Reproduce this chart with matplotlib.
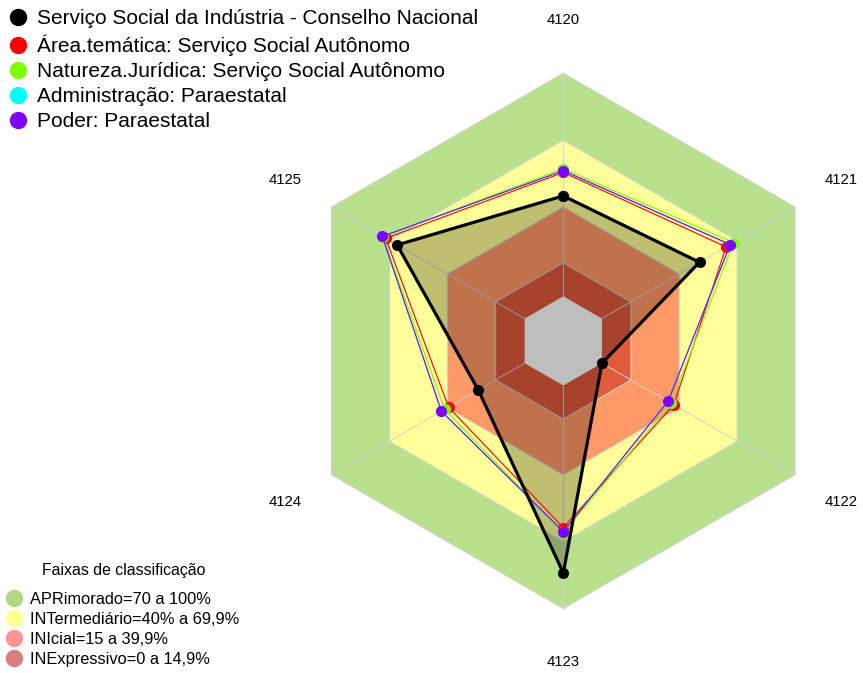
import numpy as np
import matplotlib.pyplot as plt
from matplotlib.lines import Line2D

plt.rcParams['font.family'] = ['Liberation Sans', 'DejaVu Sans']

# axes of the radar (clockwise from the top)
eixos = ['4120', '4121', '4122', '4123', '4124', '4125']

# series values (0-100)
sesi = [45.0, 50.5, 0.0, 84.0, 24.0, 66.0]
area_tematica = [55.5, 64.3, 37.2, 63.7, 39.4, 71.9]
natureza_juridica = [57.2, 68.2, 35.8, 66.0, 41.4, 73.5]
administracao = [56.3, 66.4, 34.2, 65.5, 43.1, 73.7]
poder = [56.3, 66.4, 34.2, 65.5, 43.1, 73.7]

series_nomes = ['Serviço Social da Indústria - Conselho Nacional',
                'Área.temática: Serviço Social Autônomo',
                'Natureza.Jurídica: Serviço Social Autônomo',
                'Administração: Paraestatal',
                'Poder: Paraestatal']
series_cores = ['black', '#FF0000', '#7FFF00', '#00FFFF', '#8000FF']

# classification bands
faixas_lim = [100, 70, 40, 15]
faixas_cores = ['#B9E08D', '#FFFF99', '#FF9966', '#E05A3C']
faixas_nomes = ['APRimorado=70 a 100%', 'INTermediário=40% a 69,9%',
                'INIcial=15 a 39,9%', 'INExpressivo=0 a 14,9%']
faixas_leg_cores = ['#ADD681', '#FFFF8C', '#FF9191', '#D67878']

OFF = 1 / 6  # centre hole
ang = np.deg2rad(90 - 60 * np.arange(len(eixos)))


def raio(v):
    return OFF + (1 - OFF) * np.asarray(v, dtype=float) / 100


def xy(v):
    r = raio(v) * np.ones(len(ang))
    x, y = r * np.cos(ang), r * np.sin(ang)
    return np.append(x, x[0]), np.append(y, y[0])


fig = plt.figure(figsize=(8.63, 6.73), dpi=100)
ax = fig.add_axes([0, 0, 1, 1])
R = 267.7
cx, cy = 563.3, 673 - 340.9
ax.set_xlim(-cx / R, (863 - cx) / R)
ax.set_ylim(-cy / R, (673 - cy) / R)
ax.axis('off')

# bands
for lim, cor in zip(faixas_lim, faixas_cores):
    x, y = xy(lim)
    ax.fill(x, y, color=cor, lw=0, zorder=1)
    ax.plot(x, y, color='#D0D0D0', lw=0.7, zorder=2)

# spokes
for a in ang:
    ax.plot([OFF * np.cos(a), np.cos(a)], [OFF * np.sin(a), np.sin(a)],
            color='#D0D0D0', lw=0.7, zorder=2)

# series
todas = [sesi, area_tematica, natureza_juridica, administracao, poder]
x, y = xy(sesi)
ax.fill(x, y, color='black', alpha=0.25, lw=0, zorder=3)

# centre
x0, y0 = xy(0)
ax.fill(x0, y0, color='#BEBEBE', lw=0, zorder=4)

for i, (vals, cor) in enumerate(zip(todas, series_cores)):
    x, y = xy(vals)
    if i == 0:
        ax.plot(x, y, color=cor, lw=2.3, marker='o', ms=7, zorder=10)
    else:
        ax.plot(x, y, color=cor, lw=0.8, marker='o', ms=7, zorder=5 + i)

# axis labels
for a, lab in zip(ang, eixos):
    ax.text(1.2 * np.cos(a), 1.2 * np.sin(a), lab, ha='center', va='center',
            fontsize=10.7)

# legends
h1 = [Line2D([], [], ls='', marker='o', ms=11.5, color=c) for c in series_cores]
leg1 = ax.legend(h1, series_nomes, loc='upper left',
                 bbox_to_anchor=(7.6 / 863, 1 - 9.5 / 673),
                 bbox_transform=fig.transFigure, frameon=False, fontsize=15,
                 handlelength=1.0, handletextpad=0.41, borderpad=0,
                 borderaxespad=0, labelspacing=0.29)
ax.add_artist(leg1)

h2 = [Line2D([], [], ls='', marker='o', ms=11.5, color=c, mec=c, alpha=0.95)
      for c in faixas_leg_cores]
ax.legend(h2, faixas_nomes, loc='upper left',
          bbox_to_anchor=(5.8 / 863, 1 - 591.5 / 673),
          bbox_transform=fig.transFigure, frameon=False, fontsize=11.8,
          handlelength=1.0, handletextpad=0.48, borderpad=0,
          borderaxespad=0, labelspacing=0.32)
fig.text(124 / 863, 1 - 571 / 673, 'Faixas de classificação', ha='center',
         va='center', fontsize=11.4)

fig.savefig('out.png', dpi=100)
